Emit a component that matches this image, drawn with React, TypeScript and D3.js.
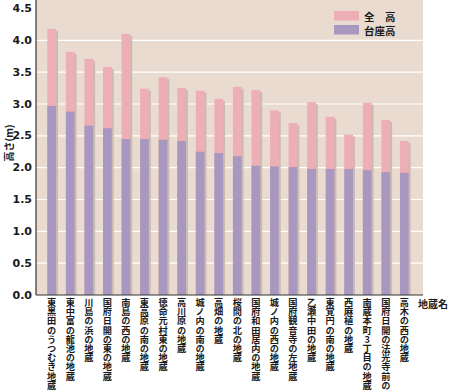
import React from "react";
import * as d3 from "d3";

const categories = [
  "東黒田のうつむき地蔵",
  "東中富の龍池の地蔵",
  "川島の浜の地蔵",
  "国府日開の東の地蔵",
  "南島の西の地蔵",
  "東高原の南の地蔵",
  "徳命元村東の地蔵",
  "高川原の地蔵",
  "城ノ内の南の地蔵",
  "高畑の地蔵",
  "桜間の北の地蔵",
  "国府和田居内の地蔵",
  "城ノ内の西の地蔵",
  "国府観音寺の左地蔵",
  "乙瀬中田の地蔵",
  "東覚円の南の地蔵",
  "西麻植の地蔵",
  "南蔵本町3丁目の地蔵",
  "国府日開の法光寺前の地蔵",
  "高木の西の地蔵",
];
const totalHeight = [4.18, 3.82, 3.71, 3.58, 4.1, 3.24, 3.42, 3.25, 3.21, 3.08, 3.27, 3.22, 2.9, 2.7, 3.03, 2.8, 2.52, 3.02, 2.75, 2.42];
const baseHeight = [2.97, 2.88, 2.66, 2.62, 2.45, 2.45, 2.44, 2.42, 2.25, 2.23, 2.18, 2.03, 2.02, 2.01, 1.98, 1.98, 1.98, 1.96, 1.93, 1.92];
const yTicks = [0, 0.5, 1, 1.5, 2, 2.5, 3, 3.5, 4, 4.5];
const legendLabels = ["全　高", "台座高"];
const yTitle = "高さ(m)";
const xTitle = "地蔵名";

const W = 450;
const H = 390;
const plotL = 36;
const plotR = 423;
const plotT = 0;
const plotB = 295;

const PINK = "#eeaeb5";
const PURPLE = "#a898c0";
const BG = "#eadbd0";
const TEXT = "#1a1a1a";

export default function App() {
  const x = d3
    .scaleBand<string>()
    .domain(categories)
    .range([42.4, 413.6])
    .paddingInner(0.53)
    .paddingOuter(0.265);
  const y = d3.scaleLinear().domain([0, 4.5]).range([plotB, 8.5]);
  const bw = x.bandwidth();

  return (
    <svg
      width={W}
      height={H}
      style={{ position: "absolute", left: 0, top: 0, background: "#fff" }}
      fontFamily="'Noto Sans CJK JP', 'DejaVu Sans', sans-serif"
    >
      <rect x={plotL} y={plotT} width={plotR - plotL} height={plotB - plotT} fill={BG} />
      {yTicks
        .filter((t) => t > 0 && t < 4.5)
        .map((t) => (
          <line key={t} x1={plotL} x2={plotR} y1={y(t)} y2={y(t)} stroke="#fff" strokeWidth={1.2} />
        ))}
      {categories.map((c, i) => {
        const bx = x(c)!;
        return (
          <g key={c}>
            <rect
              x={bx + 2}
              y={y(totalHeight[i]) + 2}
              width={bw}
              height={plotB - y(totalHeight[i]) - 2}
              fill="#cbbcb0"
            />
            <rect x={bx} y={y(totalHeight[i])} width={bw} height={plotB - y(totalHeight[i])} fill={PINK} />
            <rect x={bx} y={y(baseHeight[i])} width={bw} height={plotB - y(baseHeight[i])} fill={PURPLE} />
          </g>
        );
      })}
      <line x1={plotL} x2={plotL} y1={plotT} y2={plotB} stroke="#333" strokeWidth={1.2} />
      <line x1={plotL} x2={plotR} y1={plotB} y2={plotB} stroke="#333" strokeWidth={1.2} />
      {yTicks.map((t) => (
        <text
          key={t}
          x={32}
          y={y(t)}
          textAnchor="end"
          dominantBaseline="central"
          fontFamily="'DejaVu Sans', sans-serif"
          fontWeight="bold"
          fontSize={11}
          fill={TEXT}
        >
          {t.toFixed(1)}
        </text>
      ))}
      <text
        transform="translate(8,143) rotate(-90)"
        textAnchor="middle"
        dominantBaseline="central"
        fontSize={10}
        fontWeight="bold"
        fill={TEXT}
      >
        {yTitle}
      </text>
      {categories.map((c) => {
        const cx = x(c)! + bw / 2;
        return (
          <text
            key={"l" + c}
            x={cx}
            y={298}
            fontSize={9.2}
            fontWeight="bold"
            fill={TEXT}
            style={{ writingMode: "vertical-rl", textOrientation: "upright" } as React.CSSProperties}
          >
            {c}
          </text>
        );
      })}
      <text x={418} y={303} dominantBaseline="central" fontSize={10} fontWeight="bold" fill={TEXT}>
        {xTitle}
      </text>
      {legendLabels.map((l, i) => (
        <g key={l}>
          <rect x={334} y={11 + i * 14} width={25} height={9.5} fill={i === 0 ? PINK : PURPLE} />
          <text
            x={364}
            y={16 + i * 14}
            dominantBaseline="central"
            fontSize={10.5}
            fontWeight="bold"
            fill={TEXT}
          >
            {l}
          </text>
        </g>
      ))}
    </svg>
  );
}
